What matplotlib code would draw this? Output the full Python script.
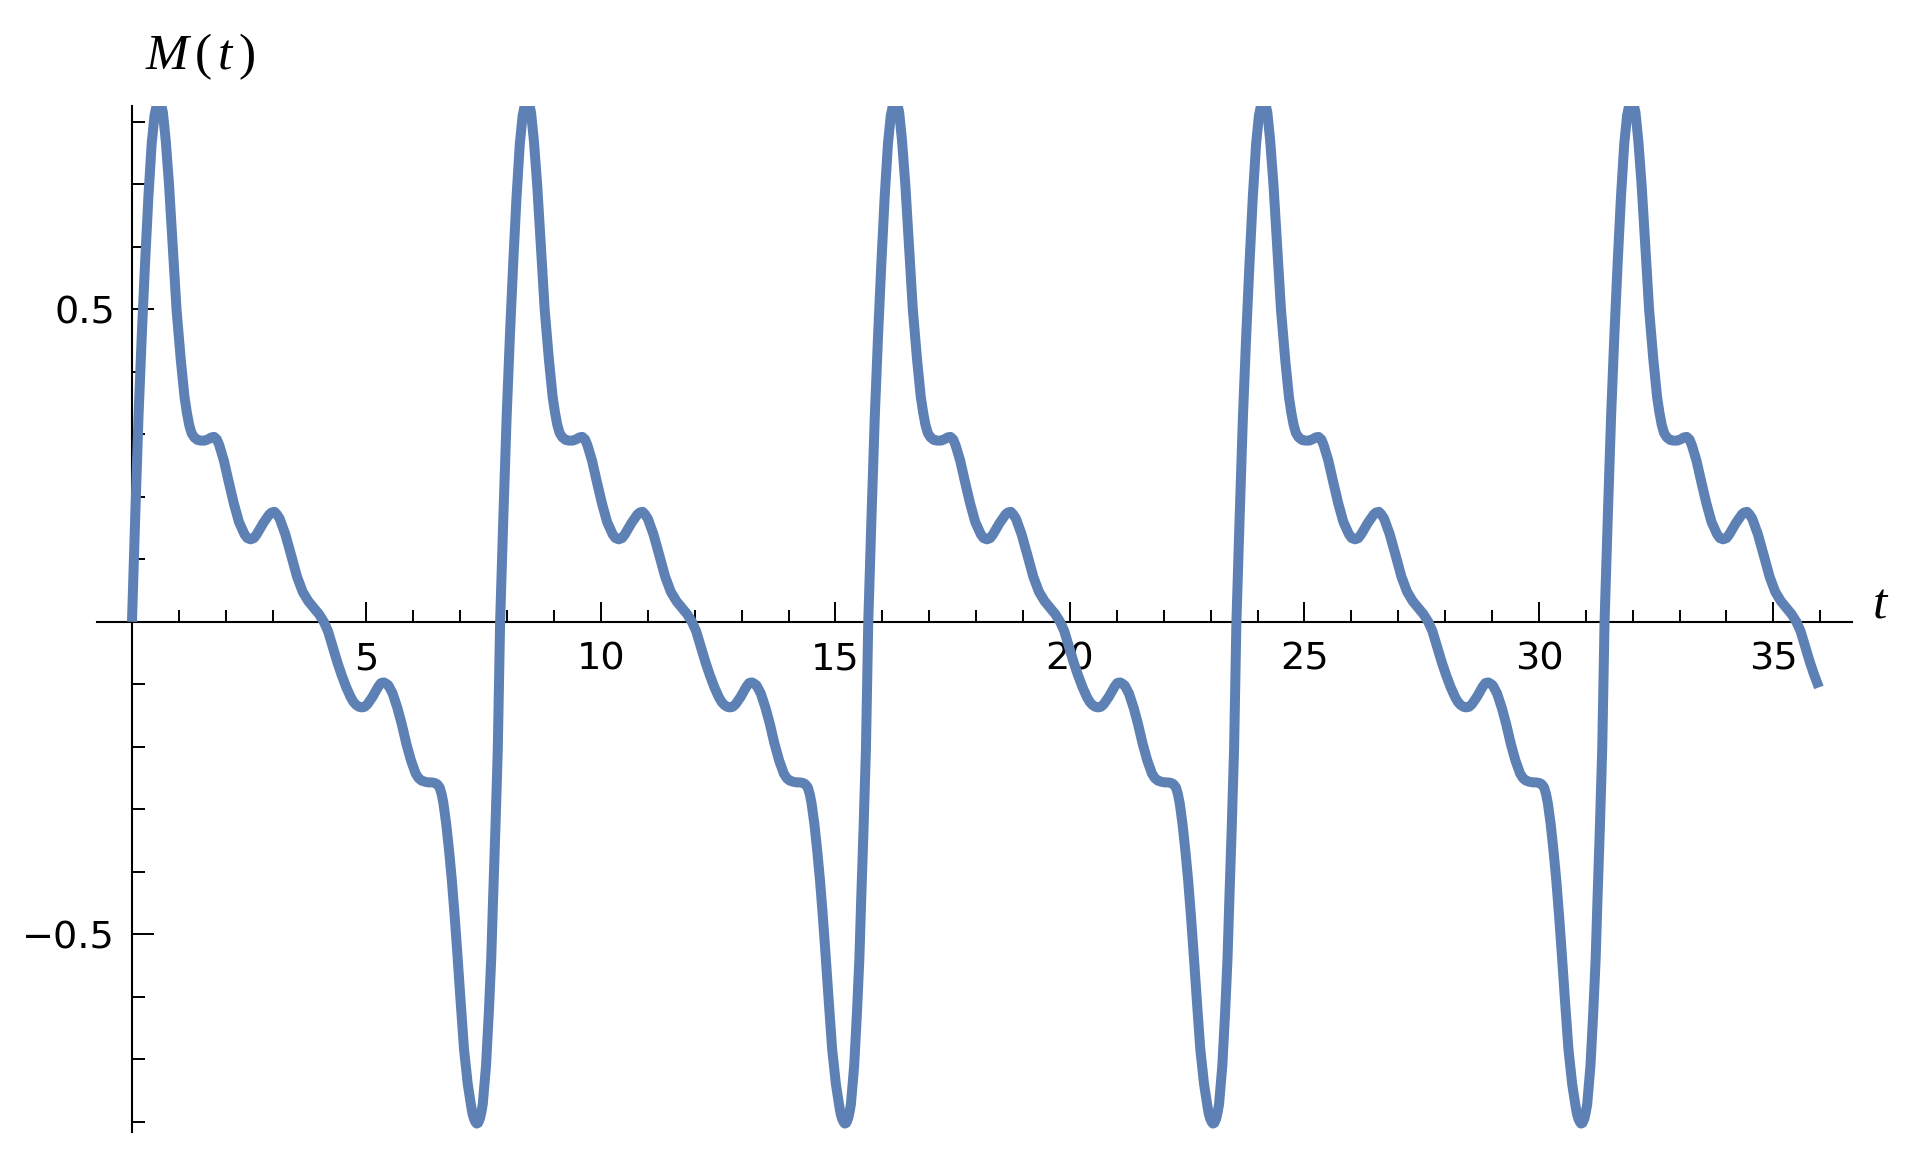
import numpy as np
import matplotlib
matplotlib.use("Agg")
import matplotlib.pyplot as plt

# Un periodo de M(t) (t, M)
periodo_t = np.array([
    0.00, 0.07, 0.14, 0.21, 0.28, 0.35, 0.42, 0.48, 0.54, 0.60,
    0.66, 0.72, 0.79, 0.87, 0.95, 1.04, 1.12, 1.17, 1.22, 1.27,
    1.33, 1.40, 1.47, 1.55, 1.62, 1.69, 1.75, 1.81, 1.86, 1.96,
    2.06, 2.17, 2.28, 2.40, 2.46, 2.53, 2.60, 2.66, 2.80, 2.93,
    2.98, 3.04, 3.09, 3.15, 3.27, 3.40, 3.52, 3.64, 3.76, 3.88,
    3.99, 4.09, 4.18, 4.28, 4.38, 4.47, 4.57, 4.66, 4.72, 4.78,
    4.84, 4.90, 4.96, 5.02, 5.13, 5.25, 5.31, 5.37, 5.42, 5.47,
    5.56, 5.66, 5.75, 5.85, 5.95, 6.05, 6.11, 6.17, 6.25, 6.32,
    6.39, 6.46, 6.51, 6.56, 6.60, 6.64, 6.70, 6.76, 6.82, 6.88,
    6.94, 7.01, 7.08, 7.16, 7.20, 7.23, 7.26, 7.29, 7.32, 7.35,
    7.38, 7.42, 7.45, 7.48, 7.55, 7.61, 7.66, 7.70, 7.75, 7.80,
])
periodo_m = np.array([
    0.000, 0.170, 0.330, 0.460, 0.575, 0.680, 0.765, 0.810, 0.832, 0.835,
    0.815, 0.770, 0.700, 0.600, 0.500, 0.420, 0.360, 0.335, 0.315, 0.302,
    0.295, 0.291, 0.290, 0.290, 0.292, 0.295, 0.296, 0.292, 0.283, 0.258,
    0.225, 0.190, 0.160, 0.140, 0.134, 0.132, 0.134, 0.140, 0.158, 0.172,
    0.175, 0.176, 0.172, 0.165, 0.140, 0.105, 0.072, 0.048, 0.033, 0.022,
    0.012, 0.000, -0.015, -0.040, -0.065, -0.085, -0.105, -0.120, -0.128, -0.133,
    -0.136, -0.137, -0.136, -0.132, -0.120, -0.104, -0.098, -0.097, -0.099, -0.102,
    -0.115, -0.138, -0.163, -0.195, -0.222, -0.243, -0.250, -0.254, -0.256, -0.257,
    -0.257, -0.258, -0.260, -0.265, -0.275, -0.290, -0.323, -0.365, -0.413, -0.470,
    -0.533, -0.610, -0.684, -0.740, -0.760, -0.774, -0.787, -0.795, -0.800, -0.803,
    -0.802, -0.795, -0.785, -0.772, -0.710, -0.624, -0.540, -0.443, -0.330, -0.205,
])
PERIODO = 7.85
N_PERIODOS = 5
T_FIN = 36.0

x_ticks = [5, 10, 15, 20, 25, 30, 35]
x_minor = [i for i in range(1, 37) if i % 5 != 0]
y_ticks = [-0.5, 0.5]
y_minor = [-0.8, -0.7, -0.6, -0.4, -0.3, -0.2, -0.1, 0.1, 0.2, 0.3, 0.4, 0.6, 0.7, 0.8]

# Repetir el periodo leído a lo largo de todo el eje t
t = np.concatenate([periodo_t + k * PERIODO for k in range(N_PERIODOS)])
m = np.tile(periodo_m, N_PERIODOS)
t, m = t[t <= T_FIN], m[t <= T_FIN]

plt.rcParams["mathtext.fontset"] = "custom"
plt.rcParams["mathtext.it"] = "Liberation Serif:italic"
plt.rcParams["mathtext.rm"] = "Liberation Serif"

fig = plt.figure(figsize=(19.13, 11.5), dpi=100)
ax = fig.add_axes([96.8 / 1913, 1 - 1132.3 / 1150, (1851.7 - 96.8) / 1913, (1132.3 - 105.7) / 1150])

ax.plot(t, m, color="#5E81B5", lw=7.2, solid_joinstyle="round", solid_capstyle="butt")

ax.set_xlim(-0.75, 36.67)
ax.set_ylim(-0.817, 0.826)

# Ejes cruzando en el origen, estilo Mathematica
ax.spines["left"].set_position(("data", 0))
ax.spines["bottom"].set_position(("data", 0))
ax.spines["top"].set_visible(False)
ax.spines["right"].set_visible(False)
for s in ("left", "bottom"):
    ax.spines[s].set_linewidth(1.5)
    ax.spines[s].set_zorder(1)

ax.set_xticks(x_ticks)
ax.set_xticks(x_minor, minor=True)
ax.set_yticks(y_ticks)
ax.set_yticks(y_minor, minor=True)
ax.set_yticklabels(["\u22120.5", "0.5"])

ax.tick_params(axis="x", which="major", direction="in", length=14.4, width=1.4, pad=14, labelsize=27.5)
ax.tick_params(axis="x", which="minor", direction="in", length=8.6, width=1.4)
ax.tick_params(axis="y", which="major", direction="in", length=15.8, width=1.4, pad=12, labelsize=27.5)
ax.tick_params(axis="y", which="minor", direction="in", length=9.4, width=1.4)

fig.text(145 / 1913, 1 - 69 / 1150, r"$M\,(\,t\,)$", fontsize=37, ha="left", va="baseline")
fig.text(1872 / 1913, 1 - 618 / 1150, r"$t$", fontsize=37, ha="left", va="baseline")

fig.savefig("out.png", dpi=100)
